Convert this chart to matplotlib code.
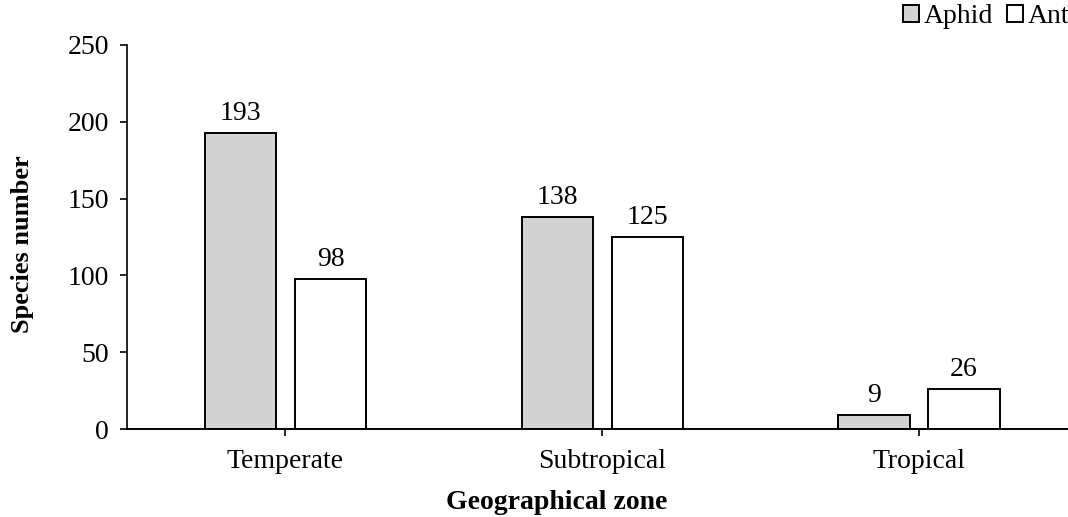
import numpy as np
import matplotlib.pyplot as plt

zones = ["Temperate", "Subtropical", "Tropical"]
aphid = [193, 138, 9]
ant = [98, 125, 26]

plt.rcParams["font.family"] = "Liberation Serif"

fig = plt.figure(figsize=(10.68, 5.17), dpi=100)
ax = fig.add_axes([0.119, 0.170, 0.881, 0.743])

x = np.arange(len(zones))
w = 0.225
off = 0.142
b1 = ax.bar(x - off, aphid, w, color="#d3d3d3", edgecolor="black", linewidth=1.4, label="Aphid")
b2 = ax.bar(x + off, ant, w, color="white", edgecolor="black", linewidth=1.4, label="Ant")
ax.bar_label(b1, padding=5, fontsize=20)
ax.bar_label(b2, padding=5, fontsize=20)

ax.set_xlim(-0.5, 2.47)
ax.set_ylim(0, 250)
ax.set_yticks([0, 50, 100, 150, 200, 250])
ax.set_xticks(x)
ax.set_xticklabels(zones)
ax.tick_params(axis="both", labelsize=20, width=1.2, length=5, direction="out")
ax.tick_params(axis="y", pad=8)
ax.tick_params(axis="x", pad=9)
for s in ["top", "right"]:
    ax.spines[s].set_visible(False)
ax.spines["left"].set_linewidth(1.2)
ax.spines["bottom"].set_linewidth(1.4)

ax.set_ylabel("Species number", fontsize=19, fontweight="bold", va="center")
ax.yaxis.set_label_coords(-0.111, 0.482)
fig.text(0.5215, 0.003, "Geographical zone", fontsize=20, fontweight="bold", ha="center", va="bottom")

ax.legend(loc="upper right", bbox_to_anchor=(1.013, 1.135), ncol=2, frameon=False, fontsize=20,
          handlelength=0.6, handleheight=0.6, handletextpad=0.15, columnspacing=0.5, borderaxespad=0)

fig.savefig("out.png", dpi=100)
